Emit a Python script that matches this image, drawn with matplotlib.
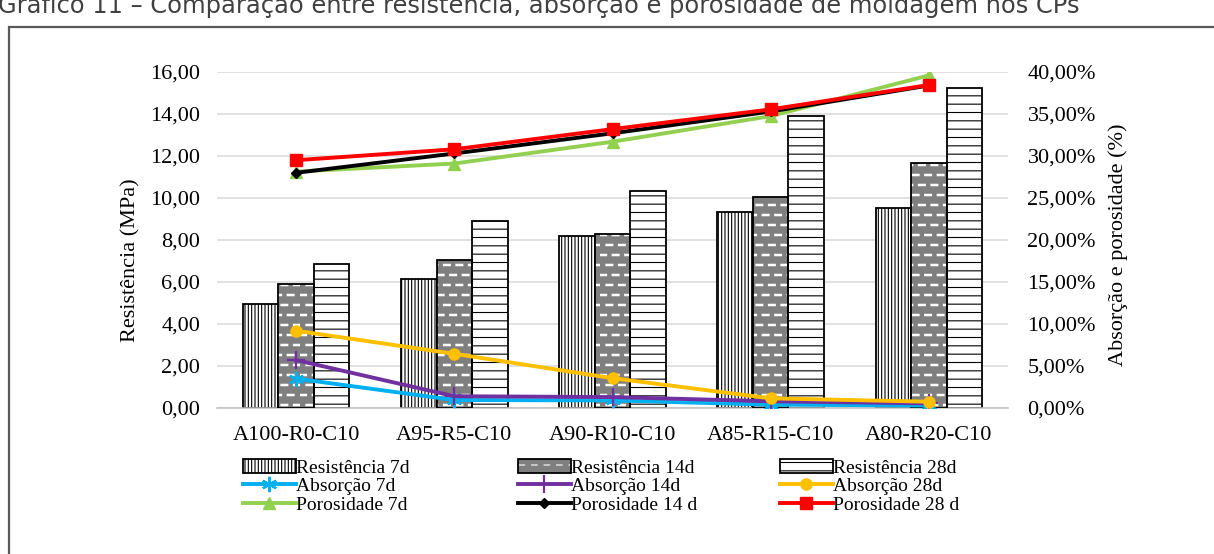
import numpy as np
import matplotlib
matplotlib.use("Agg")
import matplotlib.pyplot as plt
import matplotlib.hatch as mhatch
from matplotlib.path import Path
from matplotlib.patches import Rectangle
from matplotlib.ticker import FuncFormatter, MultipleLocator

# Dados dos traços
tracos = ["A100-R0-C10", "A95-R5-C10", "A90-R10-C10", "A85-R15-C10", "A80-R20-C10"]

# Resistência (MPa)
resist_7d = [4.97, 6.14, 8.18, 9.35, 9.51]
resist_14d = [5.90, 7.04, 8.28, 10.06, 11.65]
resist_28d = [6.86, 8.90, 10.33, 13.90, 15.22]

# Absorção (%)
absor_7d = [3.50, 0.95, 0.90, 0.40, 0.30]
absor_14d = [5.70, 1.40, 1.30, 0.80, 0.55]
absor_28d = [9.20, 6.45, 3.55, 1.15, 0.75]

# Porosidade (%)
poros_7d = [28.15, 29.10, 31.70, 34.75, 39.60]
poros_14d = [28.00, 30.30, 32.70, 35.30, 38.40]
poros_28d = [29.50, 30.80, 33.20, 35.55, 38.45]

titulo = "Gráfico 11 – Comparação entre resistência, absorção e porosidade de moldagem nos CPs"


# Padrão de tracinhos brancos (substitui o padrão '.')
class Tracejado(mhatch.HatchPatternBase):
    linhas = 10
    colunas = 8
    comp = 0.055

    def __init__(self, hatch, density):
        self.num_vertices = 2 * self.linhas * self.colunas if hatch.count(".") else 0

    def set_vertices_and_codes(self, vertices, codes):
        k = 0
        for i in range(self.linhas):
            y = (i + 0.5) / self.linhas
            desloc = 0.25 if i % 2 == 0 else 0.75
            for j in range(self.colunas):
                x0 = (j + desloc) / self.colunas - self.comp / 2
                vertices[k] = (x0, y)
                vertices[k + 1] = (x0 + self.comp, y)
                codes[k] = Path.MOVETO
                codes[k + 1] = Path.LINETO
                k += 2


mhatch._hatch_types = [Tracejado if t is mhatch.SmallFilledCircles else t
                       for t in mhatch._hatch_types]

plt.rcParams["font.family"] = "Liberation Serif"
plt.rcParams["hatch.linewidth"] = 0.8

W, H = 1214, 554
fig = plt.figure(figsize=(W / 100, H / 100), dpi=100)
ax = fig.add_axes([217 / W, 146 / H, 791 / W, 336 / H])

x = np.arange(len(tracos))
larg = 0.2245

b7 = ax.bar(x - larg, resist_7d, larg, color="white", edgecolor="black",
            hatch="|||||", linewidth=1.3, zorder=2)
b14f = ax.bar(x, resist_14d, larg, color="#7F7F7F", edgecolor="white",
              hatch=".", linewidth=0, zorder=2)
for p in b14f:
    p.set_hatch_linewidth(1.8)
b14c = ax.bar(x, resist_14d, larg, fill=False, edgecolor="black",
              linewidth=1.3, zorder=3)
b28 = ax.bar(x + larg, resist_28d, larg, color="white", edgecolor="black",
             hatch="--", linewidth=1.3, zorder=2)

ax.set_xlim(-0.5, len(tracos) - 0.5)
ax.set_ylim(0, 16)
ax.yaxis.set_major_locator(MultipleLocator(2))
ax.yaxis.set_major_formatter(FuncFormatter(lambda v, _: f"{v:.2f}".replace(".", ",")))
ax.set_xticks(x)
ax.set_xticklabels(tracos)
ax.grid(axis="y", color="#D9D9D9", linewidth=1.1)
ax.set_axisbelow(True)
for lado in ["left", "right", "top"]:
    ax.spines[lado].set_visible(False)
ax.spines["bottom"].set_color("#BFBFBF")
ax.spines["bottom"].set_linewidth(1.1)
ax.tick_params(axis="both", length=0, labelsize=16, colors="#000000")
ax.tick_params(axis="y", pad=12)
ax.tick_params(axis="x", pad=13)
ax.set_ylabel("Resistência (MPa)", fontsize=16)
ax.yaxis.set_label_coords(-0.0973, 0.44)

# Eixo secundário - absorção e porosidade
ax2 = ax.twinx()
ax2.set_ylim(0, 40)
ax2.yaxis.set_major_locator(MultipleLocator(5))
ax2.yaxis.set_major_formatter(FuncFormatter(lambda v, _: f"{v:.2f}%".replace(".", ",")))
for lado in ["left", "right", "top", "bottom"]:
    ax2.spines[lado].set_visible(False)
ax2.tick_params(axis="y", length=0, labelsize=16, pad=14)
ax2.set_ylabel("Absorção e porosidade (%)", fontsize=16)
ax2.yaxis.set_label_coords(1.1264, 0.485)

lw = 2.8
la7, = ax2.plot(x, absor_7d, color="#00B0F0", lw=lw, marker=(6, 2, 0), ms=11, mew=1.6)
la14, = ax2.plot(x, absor_14d, color="#7030A0", lw=lw, marker="+", ms=13, mew=1.6)
la28, = ax2.plot(x, absor_28d, color="#FFC000", lw=lw, marker="o", ms=8)
lp7, = ax2.plot(x, poros_7d, color="#92D050", lw=lw, marker="^", ms=8)
lp14, = ax2.plot(x, poros_14d, color="black", lw=lw, marker="D", ms=5)
lp28, = ax2.plot(x, poros_28d, color="#FF0000", lw=lw, marker="s", ms=8)

# Legenda em três colunas independentes
colunas_leg = [
    ([b7, la7, lp7], ["Resistência 7d", "Absorção 7d", "Porosidade 7d"], 243),
    ([(b14f, b14c), la14, lp14], ["Resistência 14d", "Absorção 14d", "Porosidade 14 d"], 518),
    ([b28, la28, lp28], ["Resistência 28d", "Absorção 28d", "Porosidade 28 d"], 780),
]
for hs, ls, x_px in colunas_leg:
    fig.legend(hs, ls, loc="upper left",
               bbox_to_anchor=(x_px / W, 1 - 459 / H), frameon=False,
               fontsize=14, handlelength=2.7, handletextpad=0.05,
               labelspacing=0.05, borderpad=0, borderaxespad=0)

# Título (cortado na parte superior) e moldura
fig.text(-0.002, 1 - 13 / H, titulo, fontsize=17.4, color="#404040",
         va="baseline", family="DejaVu Sans")
fig.add_artist(Rectangle((9 / W, -0.1), 1.2, 1.1 - 27 / H,
                         transform=fig.transFigure, fill=False,
                         edgecolor="#595959", linewidth=1.6))

fig.savefig("out.png", dpi=100)
